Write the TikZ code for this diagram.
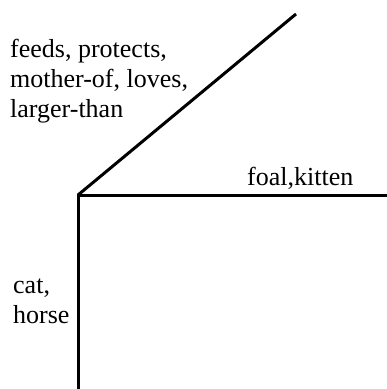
\documentclass[tikz,border=0pt]{standalone}
\usepackage{fontspec}
\setmainfont{Liberation Serif}
\begin{document}
\begin{tikzpicture}[x=1pt,y=-1pt,
  axis/.style={line width=3pt},
  % anchored at the baseline of the last line
  lbl/.style={inner sep=0pt,anchor=base west,align=left,
    font=\fontsize{26}{30}\selectfont}]
\useasboundingbox (0,0) rectangle (387,389);
\coordinate (o) at (78,195);
\coordinate (down) at (78,392);
\coordinate (right) at (390,195);
\coordinate (up) at (296,14);
\draw[axis] (down) -- (o) -- (right);
\draw[axis] (o) -- (up);
\node[lbl] (rel) at (10,117) {feeds, protects,\\mother-of, loves,\\larger-than};
\node[lbl] (obj) at (247,185) {foal,kitten};
\node[lbl] (subj) at (13,323) {cat,\\horse};
\end{tikzpicture}
\end{document}
